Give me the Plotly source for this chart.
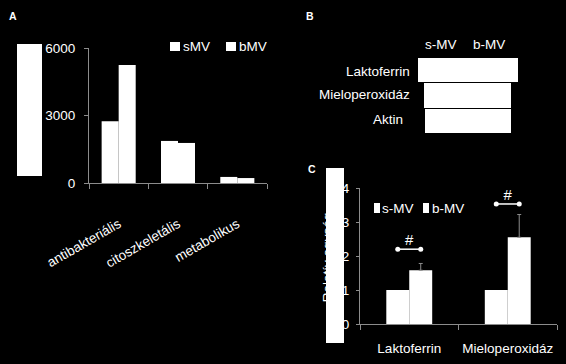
import plotly.graph_objects as go

W, H = 566, 364


def px(x):
    return x / W


def py(y):
    return 1 - y / H


FONT = "Liberation Sans, Arial, sans-serif"
FS = 13.5
WHITE = "#ffffff"
GRAY = "#8c8c8c"

# ---------------- Panel A data ----------------
cats_a = ["antibakteriális", "citoszkeletális", "metabolikus"]
series_a = ["sMV", "bMV"]
smv_a = [2750, 1870, 270]
bmv_a = [5250, 1780, 220]
yticks_a = [0, 3000, 6000]

# ---------------- Panel B labels ----------------
lanes_b = ["s-MV", "b-MV"]
proteins_b = ["Laktoferrin", "Mieloperoxidáz", "Aktin"]

# ---------------- Panel C data ----------------
cats_c = ["Laktoferrin", "Mieloperoxidáz"]
series_c = ["s-MV", "b-MV"]
smv_c = [1.0, 1.0]
bmv_c = [1.58, 2.55]
bmv_err = [0.20, 0.67]
sig_y = [2.2, 3.53]
sig_text = ["#", "#"]
yticks_c = [0, 1, 2, 3, 4]

BW_A = 0.287
BW_C = 0.233

fig = go.Figure()

# Panel A bars
xa = list(range(len(cats_a)))
fig.add_trace(go.Bar(x=xa, y=smv_a, name=series_a[0], width=BW_A, offset=-BW_A,
                     marker=dict(color=WHITE, line=dict(width=0)), xaxis="x", yaxis="y",
                     showlegend=False))
fig.add_trace(go.Bar(x=xa, y=bmv_a, name=series_a[1], width=BW_A, offset=0,
                     marker=dict(color=WHITE, line=dict(width=0)), xaxis="x", yaxis="y",
                     showlegend=False))

# Panel C bars
xc = list(range(len(cats_c)))
fig.add_trace(go.Bar(x=xc, y=smv_c, name=series_c[0], width=BW_C, offset=-BW_C,
                     marker=dict(color=WHITE, line=dict(width=0)), xaxis="x2", yaxis="y2",
                     showlegend=False))
fig.add_trace(go.Bar(x=xc, y=bmv_c, name=series_c[1], width=BW_C, offset=0,
                     marker=dict(color=WHITE, line=dict(width=0)), xaxis="x2", yaxis="y2",
                     showlegend=False,
                     error_y=dict(type="data", array=bmv_err, arrayminus=[0] * len(bmv_err),
                                  symmetric=False, color=GRAY, thickness=1, width=2)))

# significance brackets
bx, by = [], []
for i, yv in enumerate(sig_y):
    bx += [i - BW_C / 2, i + BW_C / 2, None]
    by += [yv, yv, None]
fig.add_trace(go.Scatter(x=bx, y=by, mode="lines+markers", showlegend=False,
                         line=dict(color=WHITE, width=1.5),
                         marker=dict(color=WHITE, size=5, symbol="circle"),
                         xaxis="x2", yaxis="y2", hoverinfo="skip", cliponaxis=False))
fig.add_trace(go.Scatter(x=xc, y=sig_y, mode="text", text=sig_text, textposition="top center",
                         textfont=dict(color=WHITE, size=15, family=FONT), showlegend=False,
                         xaxis="x2", yaxis="y2", hoverinfo="skip", cliponaxis=False))

axis_common = dict(showgrid=False, zeroline=False, linecolor=GRAY, linewidth=1, showline=True,
                   tickcolor=GRAY, automargin=False,
                   tickfont=dict(color=WHITE, size=FS, family=FONT))

fig.update_layout(
    template="none",
    width=W, height=H, autosize=False, margin=dict(l=0, r=0, t=0, b=0, pad=0),
    paper_bgcolor="black", plot_bgcolor="black",
    font=dict(family=FONT, color=WHITE, size=FS),
    barmode="overlay", showlegend=False, hovermode=False,
    xaxis=dict(domain=[px(89), px(267)], range=[-0.5, 2.5], anchor="y",
               tickvals=xa, ticktext=cats_a, tickangle=-30,
               ticks="", ticklabelstandoff=27,
               minor=dict(tickvals=[-0.5, 0.5, 1.5, 2.5], ticks="outside", ticklen=5,
                          tickcolor=GRAY),
               **axis_common),
    yaxis=dict(domain=[py(183), py(48)], range=[0, 6000], anchor="x",
               tickvals=yticks_a, ticks="outside", ticklen=4, ticklabelstandoff=6,
               **axis_common),
    xaxis2=dict(domain=[px(360), px(557)], range=[-0.5, 1.5], anchor="y2",
                tickvals=xc, ticktext=cats_c, ticks="", ticklabelstandoff=12,
                minor=dict(tickvals=[-0.5, 0.5, 1.5], ticks="outside", ticklen=5,
                           tickcolor=GRAY),
                **axis_common),
    yaxis2=dict(domain=[py(324), py(188)], range=[0, 4], anchor="x2",
                tickvals=yticks_c, ticks="outside", ticklen=3, ticklabelstandoff=4,
                **axis_common),
)

annotations = [
    dict(text="<b>A</b>", x=px(7), y=py(8), xanchor="left", yanchor="top", font=dict(size=10.5)),
    dict(text="<b>B</b>", x=px(304), y=py(8), xanchor="left", yanchor="top", font=dict(size=10.5)),
    dict(text="<b>C</b>", x=px(306), y=py(161), xanchor="left", yanchor="top", font=dict(size=10.5)),
    dict(text=lanes_b[0], x=px(441), y=py(44), xanchor="center", yanchor="middle"),
    dict(text=lanes_b[1], x=px(489), y=py(44), xanchor="center", yanchor="middle"),
    dict(text=proteins_b[0], x=px(412), y=py(72), xanchor="right", yanchor="middle"),
    dict(text=proteins_b[1], x=px(412), y=py(95), xanchor="right", yanchor="middle"),
    dict(text=proteins_b[2], x=px(388), y=py(120), xanchor="center", yanchor="middle"),
    # legend texts
    dict(text=series_a[0], x=px(181), y=py(46.5), xanchor="left", yanchor="middle"),
    dict(text=series_a[1], x=px(237), y=py(46.5), xanchor="left", yanchor="middle"),
    dict(text=series_c[0], x=px(380), y=py(208), xanchor="left", yanchor="middle"),
    dict(text=series_c[1], x=px(430), y=py(208), xanchor="left", yanchor="middle"),
]
for a in annotations:
    a.update(xref="paper", yref="paper", showarrow=False)
    a["font"] = dict(color=WHITE, family=FONT, size=a.get("font", {}).get("size", FS))
fig.update_layout(annotations=annotations)


def rect(x0, y0, x1, y1, **kw):
    d = dict(type="rect", xref="paper", yref="paper", x0=px(x0), x1=px(x1), y0=py(y1), y1=py(y0),
             fillcolor=WHITE, line=dict(width=0), layer="above")
    d.update(kw)
    return d


shapes = [
    # blot bands (panel B image)
    rect(418, 58, 518, 82),
    rect(424, 83, 511, 108),
    rect(425, 109, 511, 133),
    # masked box, panel A
    rect(17, 44, 42, 176),
    # legend keys
    rect(170, 42, 180, 51),
    rect(226, 42, 236, 51),
    rect(374, 203, 380, 213),
    rect(423, 203, 429, 213),
    # panel C y-axis title (partly masked)
    rect(314, 205, 338, 310, fillcolor="rgba(0,0,0,0)",
         label=dict(text="Relatív egység", textangle=-90, textposition="middle center",
                    font=dict(color=WHITE, size=FS, family=FONT))),
    rect(326, 168, 344, 343),
]
fig.update_layout(shapes=shapes)

fig.write_html("out.html", config={"displayModeBar": False, "staticPlot": True},
               post_script="document.body.style.margin='0';document.body.style.padding='0';")
